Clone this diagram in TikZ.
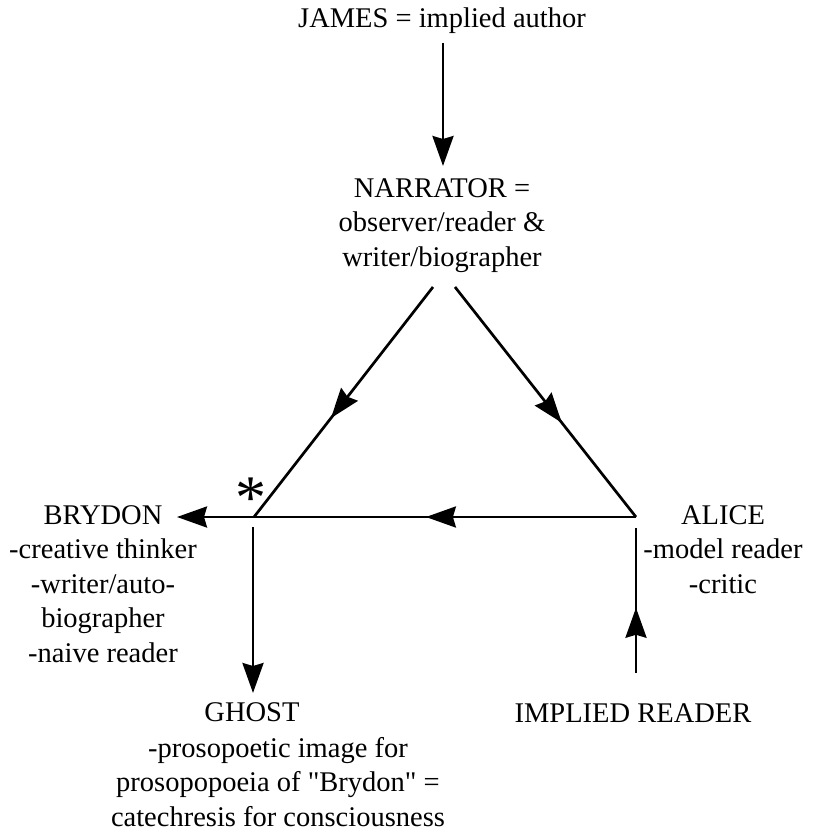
\documentclass[tikz,border=0pt]{standalone}
\usepackage{fontspec}
\setmainfont{Liberation Serif}
\usetikzlibrary{arrows.meta,decorations.markings}
\begin{document}
\begin{tikzpicture}[x=1pt,y=-1pt,
  lbl/.style={font=\fontsize{28.5}{34.5}\selectfont, align=center, inner sep=0pt},
  conn/.style={line width=2.7pt},
  tip/.style={-{Stealth[length=30pt,width=21pt,inset=3pt]}},
  midtip/.style={postaction={decorate},decoration={markings,mark=at position #1 with {\arrow{Stealth[length=30pt,width=21pt,inset=3pt]}}}}
]
\useasboundingbox (0,0) rectangle (813,831);

\node[lbl, anchor=base] (james) at (442,27) {JAMES = implied author};
\node[lbl, anchor=base] (narrator) at (442,266) {NARRATOR =\\observer/reader \&\\writer/biographer};
\node[lbl, anchor=base] (brydon) at (103,662) {BRYDON\\-creative thinker\\-writer/auto-\\biographer\\-naive reader};
\node[lbl, anchor=base] (alice) at (723,593) {ALICE\\-model reader\\-critic};
\node[lbl, anchor=base] (implied) at (633,722) {IMPLIED READER};
\node[lbl, anchor=base] (ghost) at (252,721) {GHOST};
\node[lbl, anchor=base] (ghostdesc) at (278,826) {-prosopoetic image for\\prosopopoeia of \textquotedbl Brydon\textquotedbl{} =\\catechresis for consciousness};
\node[font=\fontsize{62}{62}\selectfont, inner sep=0pt, anchor=north] (star) at (251,478) {*};

\coordinate (ja) at (443,43);
\coordinate (jb) at (443,166);
\coordinate (nl) at (433,287);
\coordinate (nr) at (455,287);
\coordinate (vl) at (254,517);
\coordinate (vr) at (636,517);
\coordinate (by) at (177,517);
\coordinate (gs) at (253,527);
\coordinate (ge) at (253,693);
\coordinate (is) at (636,673);
\coordinate (ie) at (636,528);

\draw[conn,tip] (ja) -- (jb);
\draw[conn,midtip=0.57] (nl) -- (vl);
\draw[conn,midtip=0.59] (nr) -- (vr);
\draw[conn,midtip=0.55] (vr) -- (vl);
\draw[conn,tip] (vl) -- (by);
\draw[conn,tip] (gs) -- (ge);
\draw[conn,midtip=0.45] (is) -- (ie);
\end{tikzpicture}
\end{document}
